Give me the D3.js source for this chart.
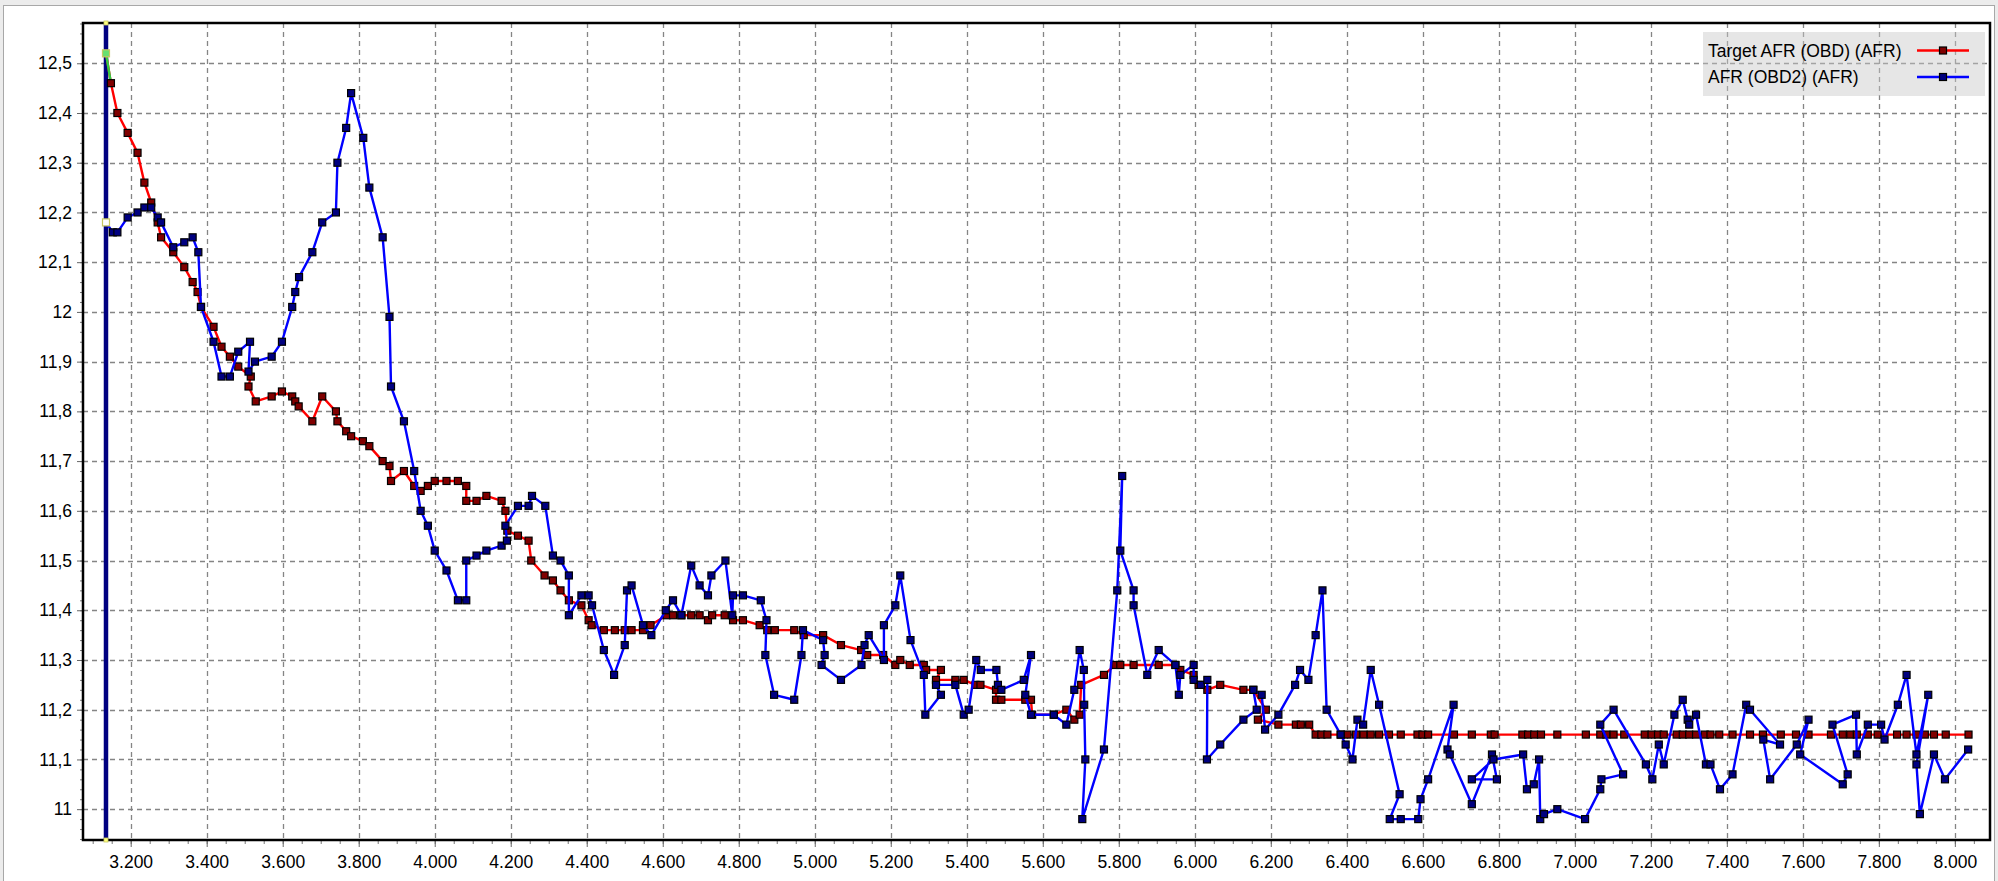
<!DOCTYPE html>
<html><head><meta charset="utf-8">
<script src="https://cdn.jsdelivr.net/npm/d3@7"></script>
<style>
html,body{margin:0;padding:0;background:#ececec;overflow:hidden}
svg{display:block}
text{font-family:"Liberation Sans",Arial,sans-serif;font-size:17.5px;fill:#000}
</style></head><body>
<svg id="chart" width="1998" height="881"></svg>
<script>
// ---------- data ----------
const seriesNames = ["Target AFR (OBD) (AFR)", "AFR (OBD2) (AFR)"];
const seriesColors = ["#ff0000", "#0000ff"];
const markerColors = ["#800000", "#000080"];

const targetRpm = [
  3135,3148,3165,3192,3218,3236,3254,3271,3280,3312,
  3341,3363,3376,3385,3418,3439,3461,3483,3516,3510,
  3529,3571,3598,3625,3633,3642,3678,3704,3740,3744,
  3767,3780,3811,3828,3863,3881,3885,3919,3946,3963,
  3982,4000,4031,4061,4083,4083,4110,4136,4176,4186,
  4191,4219,4247,4254,4289,4311,4331,4353,4386,4405,
  4413,4445,4474,4500,4518,4548,4568,4610,4627,4649,
  4675,4697,4719,4730,4763,4785,4811,4855,4875,4895,
  4946,4971,5022,5069,5122,5138,5180,5212,5225,5250,
  5287,5293,5332,5319,5370,5392,5423,5436,5477,5477,
  5491,5554,5569,5572,5629,5662,5683,5697,5701,5761,
  5791,5804,5839,5905,5949,5962,5997,6010,6033,6067,
  6128,6154,6187,6166,6220,6266,6279,6301,6318,6333,
  6349,6384,6402,6424,6444,6463,6485,6511,6542,6586,
  6599,6614,6682,6729,6779,6789,6862,6877,6893,6911,
  6954,7029,7067,7083,7102,7130,7184,7202,7219,7234,
  7268,7284,7301,7319,7342,7357,7380,7415,7461,7495,
  7542,7582,7615,7674,7705,7725,7742,7771,7797,7848,
  7873,7899,7921,7945,7976,8036];
const targetAfr = [
  12.52,12.46,12.40,12.36,12.32,12.26,12.22,12.18,12.15,12.12,
  12.09,12.06,12.04,12.01,11.97,11.93,11.91,11.89,11.87,11.85,
  11.82,11.83,11.84,11.83,11.82,11.81,11.78,11.83,11.80,11.78,
  11.76,11.75,11.74,11.73,11.70,11.69,11.66,11.68,11.65,11.64,
  11.65,11.66,11.66,11.66,11.65,11.62,11.62,11.63,11.62,11.60,
  11.56,11.55,11.54,11.50,11.47,11.46,11.44,11.42,11.41,11.38,
  11.37,11.36,11.36,11.36,11.36,11.36,11.37,11.39,11.39,11.39,
  11.39,11.39,11.38,11.39,11.39,11.38,11.38,11.37,11.36,11.36,
  11.36,11.35,11.35,11.33,11.32,11.31,11.31,11.29,11.30,11.29,
  11.29,11.28,11.28,11.26,11.26,11.26,11.25,11.25,11.24,11.22,
  11.22,11.22,11.22,11.19,11.19,11.20,11.18,11.19,11.25,11.27,
  11.29,11.29,11.29,11.29,11.29,11.28,11.27,11.25,11.24,11.25,
  11.24,11.24,11.20,11.18,11.17,11.17,11.17,11.17,11.15,11.15,
  11.15,11.15,11.15,11.15,11.15,11.15,11.15,11.15,11.15,11.15,
  11.15,11.15,11.15,11.15,11.15,11.15,11.15,11.15,11.15,11.15,
  11.15,11.15,11.15,11.15,11.15,11.15,11.15,11.15,11.15,11.15,
  11.15,11.15,11.15,11.15,11.15,11.15,11.15,11.15,11.15,11.15,
  11.15,11.15,11.15,11.15,11.15,11.15,11.15,11.15,11.15,11.15,
  11.15,11.15,11.15,11.15,11.15,11.15];

const afrRpm = [
  3135,3153,3165,3192,3218,3236,3254,3271,3280,3312,
  3341,3363,3378,3385,3418,3439,3461,3483,3514,3510,
  3527,3571,3598,3625,3633,3643,3678,3704,3740,3744,
  3767,3780,3812,3828,3863,3881,3885,3919,3946,3963,
  3982,4000,4031,4061,4083,4083,4110,4136,4176,4190,
  4186,4219,4247,4256,4291,4311,4331,4353,4353,4386,
  4405,4414,4445,4472,4500,4506,4518,4548,4570,4608,
  4627,4649,4675,4697,4719,4728,4765,4783,4785,4811,
  4858,4873,4870,4893,4946,4965,4969,5022,5026,5018,
  5069,5123,5131,5142,5182,5182,5212,5225,5252,5287,
  5291,5332,5319,5370,5392,5405,5425,5437,5478,5482,
  5491,5550,5569,5554,5569,5629,5662,5683,5697,5708,
  5709,5712,5704,5761,5796,5809,5804,5839,5839,5875,
  5905,5949,5958,5962,5997,5997,6016,6033,6032,6067,
  6128,6163,6154,6176,6185,6220,6264,6277,6299,6318,
  6336,6347,6384,6397,6415,6428,6443,6463,6485,6539,
  6513,6542,6588,6594,6614,6681,6665,6671,6729,6782,
  6795,6729,6786,6864,6874,6892,6906,6909,6919,6954,
  7027,7067,7070,7127,7067,7102,7187,7204,7221,7234,
  7262,7284,7297,7301,7319,7345,7357,7382,7415,7451,
  7461,7540,7496,7514,7584,7615,7593,7705,7718,7678,
  7740,7742,7771,7806,7815,7850,7873,7899,7930,7899,
  7908,7945,7974,8035];
const afrValues = [
  12.18,12.16,12.16,12.19,12.20,12.21,12.21,12.19,12.18,12.13,
  12.14,12.15,12.12,12.01,11.94,11.87,11.87,11.92,11.94,11.88,
  11.90,11.91,11.94,12.01,12.04,12.07,12.12,12.18,12.20,12.30,
  12.37,12.44,12.35,12.25,12.15,11.99,11.85,11.78,11.68,11.60,
  11.57,11.52,11.48,11.42,11.42,11.50,11.51,11.52,11.53,11.54,
  11.57,11.61,11.61,11.63,11.61,11.51,11.50,11.47,11.39,11.43,
  11.43,11.41,11.32,11.27,11.33,11.44,11.45,11.37,11.35,11.40,
  11.42,11.39,11.49,11.45,11.43,11.47,11.50,11.39,11.43,11.43,
  11.42,11.38,11.31,11.23,11.22,11.31,11.36,11.34,11.31,11.29,
  11.26,11.29,11.33,11.35,11.30,11.37,11.41,11.47,11.34,11.27,
  11.19,11.23,11.25,11.25,11.19,11.20,11.30,11.28,11.28,11.25,
  11.24,11.26,11.31,11.23,11.19,11.19,11.17,11.24,11.32,11.28,
  11.21,11.10,10.98,11.12,11.44,11.67,11.52,11.44,11.41,11.27,
  11.32,11.29,11.23,11.27,11.29,11.26,11.25,11.26,11.10,11.13,
  11.18,11.20,11.24,11.23,11.16,11.19,11.25,11.28,11.26,11.35,
  11.44,11.20,11.15,11.13,11.10,11.18,11.17,11.28,11.21,11.03,
  10.98,10.98,10.98,11.02,11.06,11.21,11.12,11.11,11.01,11.11,
  11.06,11.06,11.10,11.11,11.04,11.05,11.10,10.98,10.99,11.00,
  10.98,11.04,11.06,11.07,11.17,11.20,11.09,11.06,11.13,11.09,
  11.19,11.22,11.18,11.17,11.19,11.09,11.09,11.04,11.07,11.21,
  11.20,11.13,11.14,11.06,11.13,11.18,11.11,11.05,11.07,11.17,
  11.19,11.11,11.17,11.17,11.14,11.21,11.27,11.11,11.23,11.09,
  10.99,11.11,11.06,11.12];

const xTicks = [3200,3400,3600,3800,4000,4200,4400,4600,4800,5000,5200,5400,5600,5800,6000,6200,6400,6600,6800,7000,7200,7400,7600,7800,8000];
const yTicks = [11,11.1,11.2,11.3,11.4,11.5,11.6,11.7,11.8,11.9,12,12.1,12.2,12.3,12.4,12.5];
const cursorRpm = 3135;

// ---------- layout ----------
const svg = d3.select("#chart");
const plot = {left: 83, right: 1990, top: 23, bottom: 840};
const x = d3.scaleLinear().domain([3074.5, 8092.5]).range([plot.left, plot.right]);
const y = d3.scaleLinear().domain([10.938, 12.581]).range([plot.bottom, plot.top]);

const loc = d3.formatLocale({decimal: ",", thousands: ".", grouping: [3], currency: ["", ""]});
const fmtX = loc.format(",");
const fmtY = loc.format(".1~f");

// outer frame
svg.append("rect").attr("x", 3.5).attr("y", 5.5).attr("width", 1991).attr("height", 880)
  .attr("fill", "#ffffff").attr("stroke", "#a8a8a8").attr("stroke-width", 1);

// plot background
svg.append("rect").attr("x", plot.left).attr("y", plot.top)
  .attr("width", plot.right - plot.left).attr("height", plot.bottom - plot.top).attr("fill", "#fff");

// grid
const grid = svg.append("g").attr("stroke", "#858585").attr("stroke-width", 1.3).attr("stroke-dasharray", "5,4");
grid.selectAll("line.h").data(yTicks).join("line").attr("class", "h")
  .attr("x1", plot.left).attr("x2", plot.right)
  .attr("y1", d => Math.round(y(d)) + 0.5).attr("y2", d => Math.round(y(d)) + 0.5);
grid.selectAll("line.v").data(xTicks).join("line").attr("class", "v")
  .attr("y1", plot.top).attr("y2", plot.bottom)
  .attr("x1", d => Math.round(x(d)) + 0.5).attr("x2", d => Math.round(x(d)) + 0.5);

// minor ticks
const yMinor = d3.range(10.94, 12.58, 0.02);
const xMinor = d3.range(3100, 8100, 50);
const yMinorAxis = svg.append("g").attr("transform", `translate(${plot.left},0)`)
  .call(d3.axisLeft(y).tickValues(yMinor).tickSize(3).tickFormat(""));
const xMinorAxis = svg.append("g").attr("transform", `translate(0,${plot.bottom})`)
  .call(d3.axisBottom(x).tickValues(xMinor).tickSize(4).tickFormat(""));
[yMinorAxis, xMinorAxis].forEach(g => { g.select(".domain").remove(); g.selectAll("line").attr("stroke", "#777").attr("stroke-width", 1); });

// major axes
const yAxis = svg.append("g").attr("transform", `translate(${plot.left},0)`)
  .call(d3.axisLeft(y).tickValues(yTicks).tickFormat(fmtY).tickSize(6).tickPadding(5));
const xAxis = svg.append("g").attr("transform", `translate(0,${plot.bottom})`)
  .call(d3.axisBottom(x).tickValues(xTicks).tickFormat(fmtX).tickSize(7).tickPadding(9));
[yAxis, xAxis].forEach(g => {
  g.select(".domain").remove();
  g.selectAll("line").attr("stroke", "#666").attr("stroke-width", 1);
  g.selectAll("text").attr("font-family", "'Liberation Sans',Arial,sans-serif").attr("font-size", 17.5).attr("fill", "#111");
});

// cursor line
svg.append("line").attr("x1", x(cursorRpm)).attr("x2", x(cursorRpm))
  .attr("y1", plot.top).attr("y2", plot.bottom).attr("stroke", "#000080").attr("stroke-width", 4.5);

// plot border
svg.append("rect").attr("x", plot.left).attr("y", plot.top)
  .attr("width", plot.right - plot.left).attr("height", plot.bottom - plot.top)
  .attr("fill", "none").attr("stroke", "#000").attr("stroke-width", 2.5);

// series
const target = targetRpm.map((r, i) => ({rpm: r, v: targetAfr[i]}));
const afr = afrRpm.map((r, i) => ({rpm: r, v: afrValues[i]}));
const series = [target, afr];
const line = d3.line().x(d => x(d.rpm)).y(d => y(d.v));
const ms = 7;

series.forEach((data, si) => {
  const g = svg.append("g");
  g.append("path").datum(data).attr("d", line).attr("fill", "none")
    .attr("stroke", seriesColors[si]).attr("stroke-width", 2.4).attr("stroke-linejoin", "round");
  if (si === 0) {
    g.append("path").datum(data.slice(0, 2)).attr("d", line).attr("fill", "none")
      .attr("stroke", "#33cc44").attr("stroke-width", 2.4);
  }
  g.selectAll("rect").data(data).join("rect")
    .attr("x", d => x(d.rpm) - ms / 2).attr("y", d => y(d.v) - ms / 2)
    .attr("width", ms).attr("height", ms)
    .attr("fill", (d, i) => i === 0 ? (si === 0 ? "#66e070" : "#ffffff") : markerColors[si])
    .attr("stroke", (d, i) => i === 0 ? "#c8c860" : "#000").attr("stroke-width", 1.2);
});

// cursor end markers
[plot.top, plot.bottom].forEach(py => {
  svg.append("rect").attr("x", x(cursorRpm) - 2).attr("y", py - 2).attr("width", 4).attr("height", 4)
    .attr("fill", "#ffff80").attr("stroke", "#c8c860").attr("stroke-width", 0.8);
});

// legend
const lg = svg.append("g");
lg.append("rect").attr("x", 1703).attr("y", 32).attr("width", 282).attr("height", 64)
  .attr("fill", "#c8c8c8").attr("fill-opacity", 0.45);
seriesNames.forEach((name, i) => {
  const cy = 50.5 + i * 26.5;
  lg.append("text").attr("x", 1708).attr("y", cy).attr("dy", "0.35em").text(name)
    .attr("font-size", 17.5).attr("fill", "#111");
  lg.append("line").attr("x1", 1917).attr("x2", 1969).attr("y1", cy).attr("y2", cy)
    .attr("stroke", seriesColors[i]).attr("stroke-width", 2.4);
  lg.append("rect").attr("x", 1943 - ms / 2).attr("y", cy - ms / 2).attr("width", ms).attr("height", ms)
    .attr("fill", markerColors[i]).attr("stroke", "#000").attr("stroke-width", 1.2);
});
</script>
</body></html>
